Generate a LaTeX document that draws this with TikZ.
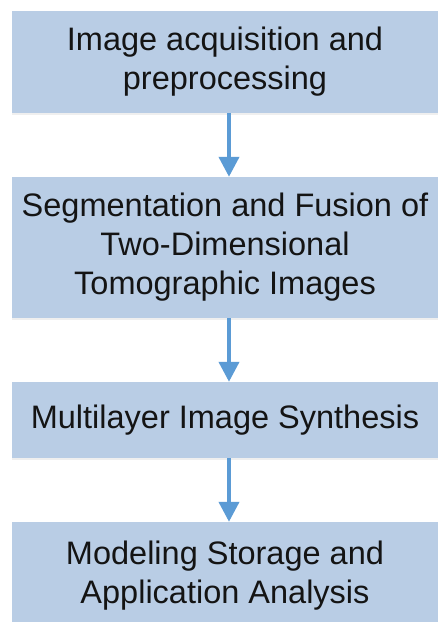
\documentclass[tikz,border=0pt]{standalone}
\usepackage{fontspec}
\setmainfont{Liberation Sans}
\usetikzlibrary{arrows.meta,shadows}
\definecolor{boxfill}{RGB}{185,205,229}
\definecolor{arrowblue}{RGB}{91,155,213}
\definecolor{txt}{RGB}{20,20,20}
\tikzset{
  stepbox/.style={rectangle, fill=boxfill, draw=none, minimum width=426pt,
    align=center, text=txt, font=\fontsize{32.5}{39}\selectfont, inner sep=0pt,
    drop shadow={opacity=0.12, shadow xshift=0pt, shadow yshift=-2.5pt}},
  flow/.style={draw=arrowblue, line width=4pt, -{Triangle[length=20pt,width=20pt]}, shorten >=0pt}
}
\begin{document}
\begin{tikzpicture}[x=1pt,y=1pt]
\useasboundingbox (0,0) rectangle (438,622);
\clip (0,0) rectangle (438,622);
\fill[white] (0,0) rectangle (438,622);
\node[stepbox, minimum height=102pt] (b1) at (225,560) {Image acquisition and\\preprocessing};
\node[stepbox, minimum height=141pt] (b2) at (225,374.5) {Segmentation and Fusion of\\Two-Dimensional\\Tomographic Images};
\node[stepbox, minimum height=76pt] (b3) at (225,202) {Multilayer Image Synthesis};
\node[stepbox, minimum height=108pt] (b4) at (225,46) {Modeling Storage and\\Application Analysis};
\coordinate (ax) at (229,0);
\draw[flow] (b1.south -| ax) -- (b2.north -| ax);
\draw[flow] (b2.south -| ax) -- (b3.north -| ax);
\draw[flow] (b3.south -| ax) -- (b4.north -| ax);
\end{tikzpicture}
\end{document}
